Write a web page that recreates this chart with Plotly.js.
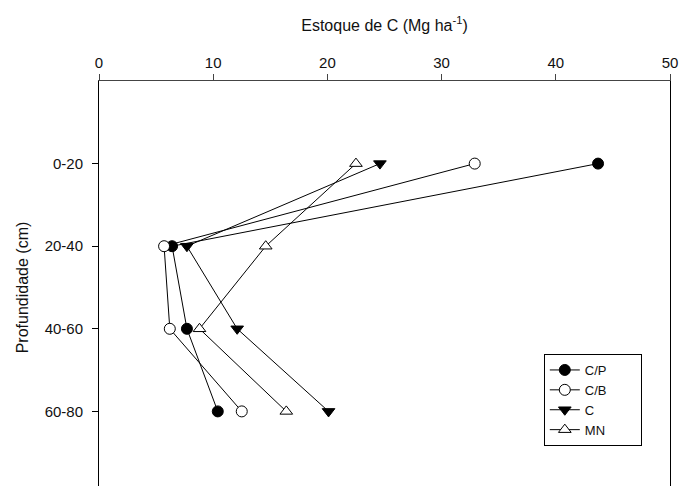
<!DOCTYPE html>
<html>
<head>
<meta charset="utf-8">
<script src="https://cdn.plot.ly/plotly-3.0.1.min.js"></script>
<style>
html,body{margin:0;padding:0;overflow:hidden;background:#fff;}
#chart{width:680px;height:500px;}
</style>
</head>
<body>
<div id="chart"></div>
<script>
var depthPos = [1, 2, 3, 4];
var depthLabels = ["0-20", "20-40", "40-60", "60-80"];
var seriesNames = ["C/P", "C/B", "C", "MN"];
var valCP = [43.7, 6.4, 7.7, 10.4];
var valCB = [32.9, 5.7, 6.2, 12.5];
var valC  = [24.6, 7.7, 12.1, 20.1];
var valMN = [22.5, 14.6, 8.8, 16.4];
var xTicks = [0, 10, 20, 30, 40, 50];

var pad = '\u00a0\u00a0\u00a0\u00a0\u00a0\u00a0\u00a0\u00a0';
function mk(name, vals, symbol, fill) {
  return {
    x: vals, y: depthPos, name: name + pad, type: 'scatter', mode: 'lines+markers',
    line: {color: '#000', width: 1},
    marker: {symbol: symbol, size: 11, color: fill, line: {color: '#000', width: 1}}
  };
}
var data = [
  mk(seriesNames[0], valCP, 'circle', '#000'),
  mk(seriesNames[1], valCB, 'circle', '#fff'),
  mk(seriesNames[2], valC, 'triangle-down', '#000'),
  mk(seriesNames[3], valMN, 'triangle-up', '#fff')
];
var fam = 'Liberation Sans, Arial, sans-serif';
var layout = {
  width: 680, height: 500,
  margin: {l: 99, r: 10, t: 81, b: 6},
  paper_bgcolor: '#fff', plot_bgcolor: '#fff',
  font: {family: fam, color: '#111', size: 15},
  showlegend: true,
  legend: {x: 0.779, y: 0.339, xanchor: 'left', yanchor: 'top',
    bordercolor: '#000', borderwidth: 1, bgcolor: '#fff',
    font: {family: fam, size: 13, color: '#111'}, tracegroupgap: 0},
  xaxis: {
    side: 'top', range: [0, 50], tickvals: xTicks, ticktext: xTicks.map(String),
    showgrid: false, zeroline: false, showline: true, linecolor: '#444', linewidth: 1,
    mirror: true, ticks: 'outside', ticklen: 6, tickcolor: '#444',
    tickfont: {family: fam, size: 15, color: '#111'},
    title: {text: 'Estoque de C (Mg ha<sup>-1</sup>)', font: {family: fam, size: 16, color: '#111'}, standoff: 18}
  },
  yaxis: {
    range: [5, 0], tickvals: depthPos, ticktext: depthLabels,
    showgrid: false, zeroline: false, showline: true, linecolor: '#000', linewidth: 1,
    mirror: true, ticks: 'outside', ticklen: 6, tickcolor: '#000',
    ticklabelstandoff: 6,
    tickfont: {family: fam, size: 15, color: '#111'},
    title: {text: 'Profundidade (cm)', font: {family: fam, size: 16, color: '#111'}, standoff: 12}
  }
};
Plotly.newPlot('chart', data, layout, {displayModeBar: false, staticPlot: true});
</script>
</body>
</html>
